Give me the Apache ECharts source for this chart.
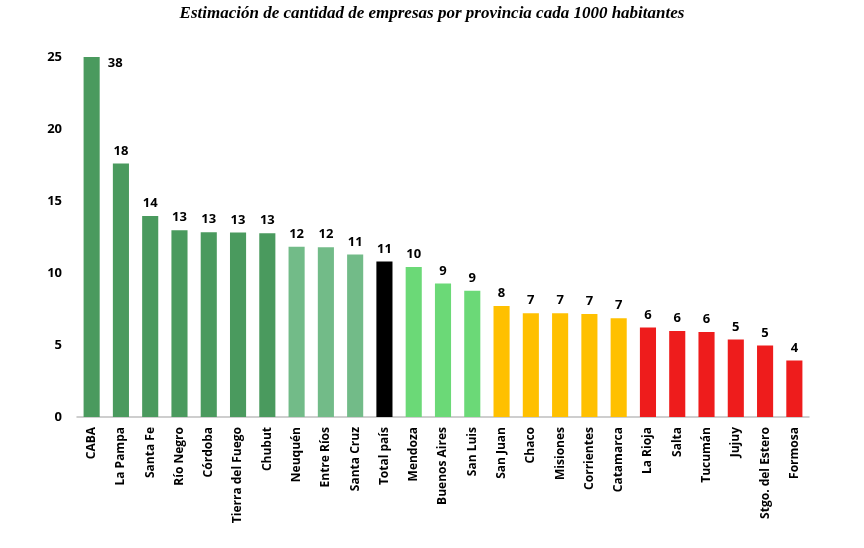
<!DOCTYPE html>
<html>
<head>
<meta charset="utf-8">
<script src="https://cdn.jsdelivr.net/npm/echarts@6/dist/echarts.min.js"></script>
<style>
html, body { margin: 0; padding: 0; background: #fff; }
#main { width: 864px; height: 548px; }
</style>
</head>
<body>
<div id="main"></div>
<script>
var provincias = ['CABA', 'La Pampa', 'Santa Fe', 'Río Negro', 'Córdoba', 'Tierra del Fuego', 'Chubut',
	'Neuquén', 'Entre Ríos', 'Santa Cruz', 'Total país', 'Mendoza', 'Buenos Aires', 'San Luis',
	'San Juan', 'Chaco', 'Misiones', 'Corrientes', 'Catamarca', 'La Rioja', 'Salta', 'Tucumán',
	'Jujuy', 'Stgo. del Estero', 'Formosa'];
// empresas cada 1000 habitantes (CABA sale del eje, se corta en 25)
var empresas = [38, 17.6, 13.96, 12.97, 12.83, 12.81, 12.76,
	11.83, 11.79, 11.28, 10.79, 10.42, 9.27, 8.76,
	7.70, 7.21, 7.21, 7.16, 6.86, 6.21, 5.98, 5.91,
	5.38, 4.97, 3.93];
// grupo de color de cada barra
var grupos = ['alto', 'alto', 'alto', 'alto', 'alto', 'alto', 'alto',
	'medioAlto', 'medioAlto', 'medioAlto', 'total', 'medio', 'medio', 'medio',
	'medioBajo', 'medioBajo', 'medioBajo', 'medioBajo', 'medioBajo',
	'bajo', 'bajo', 'bajo', 'bajo', 'bajo', 'bajo'];
var colores = {
	alto: '#4a9a5e',
	medioAlto: '#72bb88',
	total: '#000000',
	medio: '#6bd977',
	medioBajo: '#ffc000',
	bajo: '#ee1c1c'
};
var yMax = 25;

var myChart = echarts.init(document.getElementById('main'));

var datos = empresas.map(function (v, i) {
	var item = {
		value: Math.min(v, yMax),
		real: v,
		itemStyle: { color: colores[grupos[i]] }
	};
	if (v > yMax) {
		// etiqueta al costado de la barra cortada
		item.label = { position: ['100%', 0], align: 'left', verticalAlign: 'top', offset: [8, 0] };
	}
	return item;
});

option = {
	animation: false,
	title: {
		text: 'Estimación de cantidad de empresas por provincia cada 1000 habitantes',
		left: 'center',
		top: 0,
		textStyle: {
			fontFamily: 'Liberation Serif',
			fontStyle: 'italic',
			fontWeight: 'bold',
			fontSize: 17,
			color: '#000'
		}
	},
	grid: { left: 77, right: 55, top: 57, bottom: 131 },
	xAxis: {
		type: 'category',
		data: provincias,
		axisLine: { lineStyle: { color: '#bfbfbf', width: 1.5 } },
		axisTick: { show: false },
		axisLabel: {
			rotate: 90,
			interval: 0,
			margin: 10,
			color: '#000',
			fontFamily: 'Open Sans',
			fontWeight: 'bold',
			fontSize: 12
		}
	},
	yAxis: {
		type: 'value',
		min: 0,
		max: yMax,
		interval: 5,
		axisLine: { show: false },
		axisTick: { show: false },
		splitLine: { show: false },
		axisLabel: {
			margin: 15,
			color: '#000',
			fontFamily: 'Open Sans',
			fontWeight: 'bold',
			fontSize: 13
		}
	},
	series: [
		{
			type: 'bar',
			barWidth: '55%',
			data: datos,
			label: {
				show: true,
				position: 'top',
				distance: 6,
				color: '#000',
				fontFamily: 'Open Sans',
				fontWeight: 'bold',
				fontSize: 13,
				formatter: function (p) { return Math.round(p.data.real); }
			}
		}
	]
};
myChart.setOption(option);
</script>
</body>
</html>
